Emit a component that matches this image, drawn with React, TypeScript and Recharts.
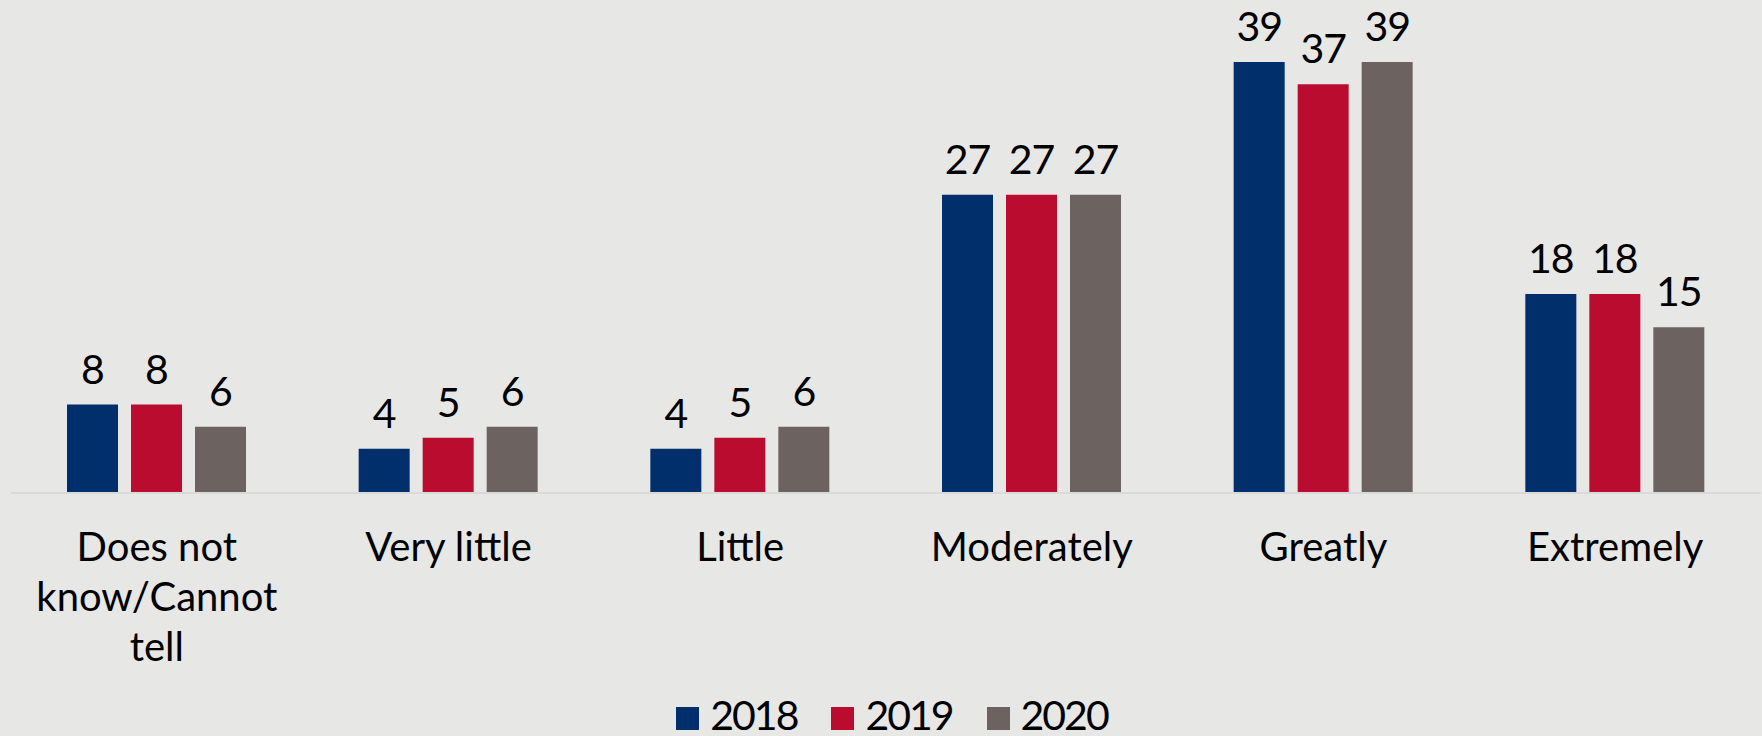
import React from 'react';
import { BarChart, Bar, XAxis, YAxis, Legend } from 'recharts';

const categories = [
  'Does not know/Cannot tell',
  'Very little',
  'Little',
  'Moderately',
  'Greatly',
  'Extremely',
];
const values2018 = [8, 4, 4, 27, 39, 18];
const values2019 = [8, 5, 5, 27, 37, 18];
const values2020 = [6, 6, 6, 27, 39, 15];

const years = ['2018', '2019', '2020'];
const colors = ['#002f6c', '#ba0c2f', '#6c6361'];

const data = categories.map((name, i) => ({
  name,
  '2018': values2018[i],
  '2019': values2019[i],
  '2020': values2020[i],
}));

const FONT = 'Lato, sans-serif';

const wrapLabel = (label: string, maxChars = 11) => {
  const lines: string[] = [];
  let current = '';
  label.split(' ').forEach((word) => {
    if ((current + ' ' + word).length <= maxChars) {
      current = current ? current + ' ' + word : word;
    } else {
      if (current) lines.push(current);
      current = word;
    }
  });
  if (current) lines.push(current);
  return lines;
};

const CategoryTick = (props: any) => {
  const { x, y, payload } = props;
  const lines = wrapLabel(payload.value);
  return (
    <g transform={`translate(${x},${y})`}>
      <text x={0} y={0} textAnchor="middle" fill="#000" fontSize={40} fontFamily={FONT}>
        {lines.map((line, i) => (
          <tspan x={0} dy={i === 0 ? 68 : 50} key={i}>
            {line}
          </tspan>
        ))}
      </text>
    </g>
  );
};

const ValueLabel = (props: any) => {
  const { x, y, width, value } = props;
  return (
    <text
      x={x + width / 2}
      y={y - 21}
      textAnchor="middle"
      fill="#000"
      fontSize={41}
      fontFamily={FONT}
      letterSpacing={-1}
    >
      {value}
    </text>
  );
};

const YearLegend = () => (
  <div
    style={{
      display: 'flex',
      justifyContent: 'center',
      alignItems: 'flex-start',
      height: 30,
      paddingLeft: 22,
      fontFamily: FONT,
      fontSize: 41,
      lineHeight: '30px',
      letterSpacing: -2,
      color: '#000',
    }}
  >
    {years.map((year, i) => (
      <div key={year} style={{ display: 'flex', alignItems: 'flex-start', marginRight: i < years.length - 1 ? 34 : 0 }}>
        <span style={{ width: 23, height: 23, marginTop: 7, marginRight: 11, background: colors[i] }} />
        <span>{year}</span>
      </div>
    ))}
  </div>
);

export default function App() {
  return (
    <div
      style={{
        position: 'absolute',
        left: 0,
        top: 0,
        width: 1762,
        height: 736,
        background: '#e7e7e5',
        fontFamily: FONT,
      }}
    >
      <BarChart
        width={1762}
        height={736}
        data={data}
        margin={{ top: 51, right: 1, bottom: 0, left: 11 }}
        barGap={13}
      >
        <XAxis
          dataKey="name"
          interval={0}
          height={213}
          tickLine={false}
          tickSize={0}
          tickMargin={0}
          axisLine={{ stroke: '#d9d9d9', strokeWidth: 2 }}
          tick={<CategoryTick />}
        />
        <YAxis hide domain={[0, 40]} />
        <Legend
          verticalAlign="bottom"
          content={<YearLegend />}
          wrapperStyle={{ left: 0, width: 1762, top: 700, bottom: 'auto', height: 30 }}
        />
        {years.map((year, i) => (
          <Bar
            key={year}
            dataKey={year}
            fill={colors[i]}
            barSize={51}
            isAnimationActive={false}
            label={<ValueLabel />}
          />
        ))}
      </BarChart>
    </div>
  );
}
